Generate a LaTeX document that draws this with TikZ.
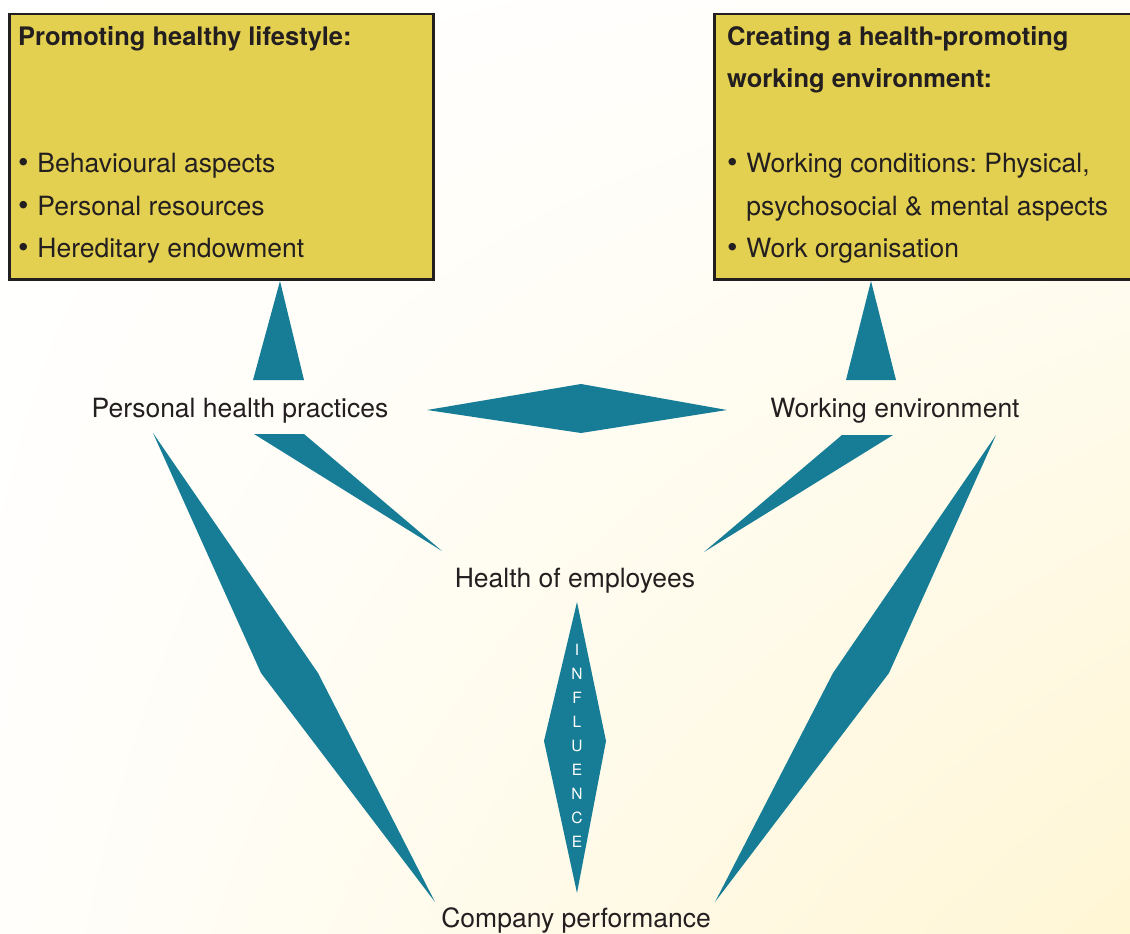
\documentclass[tikz,border=0pt]{standalone}
\usepackage{fontspec}
\setmainfont{TeX Gyre Heros}
\usepackage{tikz}
\usetikzlibrary{positioning,calc,shadings}
\frenchspacing

\definecolor{wedgeblue}{RGB}{23,125,150}
\definecolor{boxyellow}{RGB}{228,208,80}
\definecolor{inkgray}{RGB}{35,31,32}
\definecolor{cream}{RGB}{255,246,212}
\newcommand{\bulletmark}{{\fontsize{30}{42.5}\selectfont\textbullet}\hspace{0.33em}}

\begin{document}
\begin{tikzpicture}[
    x=1pt, y=-1pt,
    box/.style={draw=inkgray, line width=2.5pt, fill=boxyellow, anchor=north west, inner sep=0pt},
    boxtext/.style={anchor=base west, align=left, inner sep=0pt, text=inkgray, font=\fontsize{26.5}{42.5}\selectfont},
    factor/.style={anchor=base, inner sep=0pt, text=inkgray, font=\fontsize{26.5}{32}\selectfont},
    wedge/.style={fill=wedgeblue, draw=none},
    influence/.style={anchor=base, align=center, inner sep=0pt, text=white, font=\fontsize{15.5}{23.9}\selectfont}
]
    \useasboundingbox (0,0) rectangle (1130,934);
    \shade[upper left=white, upper right=cream!12, lower left=cream!10, lower right=cream] (0,0) rectangle (1130,934);

    % Boxes
    \node[box, minimum width=424pt, minimum height=265pt] (lifebox) at (8,13) {};
    \node[box, minimum width=424pt, minimum height=265pt] (workbox) at (713,13) {};
    \node[boxtext] (lifetext) at (18,257.5) {{\bfseries\fontsize{25.5}{42.5}\selectfont Promoting healthy lifestyle:}\\[85pt]
        \bulletmark Behavioural aspects\\
        \bulletmark Personal resources\\
        \bulletmark Hereditary endowment};
    \node[boxtext] (worktext) at (727,257.5) {{\bfseries\fontsize{25.5}{42.5}\selectfont Creating a health-promoting}\\
        {\bfseries\fontsize{25.5}{42.5}\selectfont working environment:}\\[42.5pt]
        \bulletmark Working conditions: Physical,\\
        \phantom{\bulletmark}psychosocial \& mental aspects\\
        \bulletmark Work organisation};

    % Factors
    \node[factor] (practices) at (240,417) {Personal health practices};
    \node[factor] (environment) at (895,417) {Working environment};
    \node[factor] (health) at (575,587) {Health of employees};
    \node[factor] (performance) at (576,927) {Company performance};

    % Wedges
    \fill[wedge] (280,281) -- (304,380) -- (253,380) -- cycle;
    \fill[wedge] (871,281) -- (896,380) -- (846,380) -- cycle;
    \fill[wedge] (427,410) -- (581,384) -- (727,410) -- (581,433) -- cycle;
    \fill[wedge] (254,434) -- (304,434) -- (442,551) -- cycle;
    \fill[wedge] (842,435) -- (893,435) -- (704,552) -- cycle;
    \fill[wedge] (153,433) -- (318,673) -- (435,902) -- (261,673) -- cycle;
    \fill[wedge] (996,435) -- (889,673) -- (715,902) -- (833,673) -- cycle;
    \fill[wedge] (577,602) -- (606,741) -- (577,893) -- (544,741) -- cycle;
    \node[influence] (influ) at (577,847) {I\\N\\F\\L\\U\\E\\N\\C\\E};
\end{tikzpicture}
\end{document}
